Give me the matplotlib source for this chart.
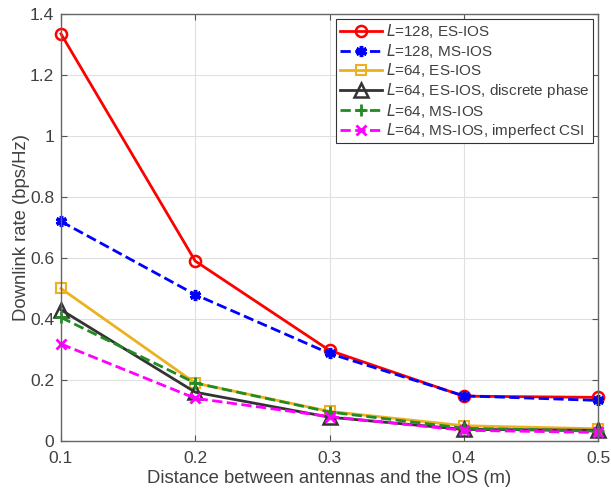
import matplotlib
matplotlib.use("Agg")
import matplotlib.pyplot as plt
from matplotlib.ticker import FuncFormatter

plt.rcParams['font.family'] = ['Liberation Sans', 'DejaVu Sans']

# distance between antennas and the IOS (m)
dist = [0.1, 0.2, 0.3, 0.4, 0.5]

# downlink rate (bps/Hz)
rate_l128_es = [1.335, 0.59, 0.297, 0.147, 0.143]
rate_l128_ms = [0.72, 0.48, 0.287, 0.148, 0.133]
rate_l64_es = [0.50, 0.19, 0.097, 0.05, 0.04]
rate_l64_es_disc = [0.43, 0.16, 0.078, 0.038, 0.035]
rate_l64_ms = [0.405, 0.19, 0.095, 0.042, 0.032]
rate_l64_ms_icsi = [0.318, 0.14, 0.08, 0.035, 0.028]

labels = [r'$L$=128, ES-IOS', r'$L$=128, MS-IOS', r'$L$=64, ES-IOS',
          r'$L$=64, ES-IOS, discrete phase', r'$L$=64, MS-IOS',
          r'$L$=64, MS-IOS, imperfect CSI']

txt = '#404040'

fig = plt.figure(figsize=(6.11, 4.92), dpi=100)
ax = fig.add_axes([0.0998, 0.1037, 0.8790, 0.8678])

ax.plot(dist, rate_l128_es, '-o', color='red', lw=2, ms=8, mfc='none', mew=1.8, label=labels[0], clip_on=False)
ax.plot(dist, rate_l128_ms, '--', marker=(6, 2, 0), color='blue', lw=2, ms=8, mew=2.5, label=labels[1], clip_on=False)
ax.plot(dist, rate_l64_es, '-s', color='#EDB120', lw=2, ms=7, mfc='none', mew=1.5, label=labels[2], clip_on=False)
ax.plot(dist, rate_l64_es_disc, '-^', color='#333333', lw=2, ms=10, mfc='none', mew=1.8, label=labels[3], clip_on=False)
ax.plot(dist, rate_l64_ms, '--+', color='#228B22', lw=2, ms=9, mew=2, label=labels[4], clip_on=False)
ax.plot(dist, rate_l64_ms_icsi, '--x', color='magenta', lw=2, ms=7, mew=2, label=labels[5], clip_on=False)

ax.set_xlim(0.1, 0.5)
ax.set_ylim(0, 1.4)
ax.set_xticks([0.1, 0.2, 0.3, 0.4, 0.5])
ax.set_yticks([0, 0.2, 0.4, 0.6, 0.8, 1.0, 1.2, 1.4])
ax.yaxis.set_major_formatter(FuncFormatter(lambda v, p: ('%g' % round(v, 2))))
ax.tick_params(direction='in', top=True, right=True, labelsize=12.5, labelcolor=txt,
               color='#555555', length=4)
ax.tick_params(axis='x', pad=7)
ax.tick_params(axis='y', pad=5)
ax.grid(True, color='#e0e0e0', lw=0.8)
for s in ax.spines.values():
    s.set_color('#666666')
    s.set_linewidth(1.0)

ax.set_xlabel('Distance between antennas and the IOS (m)', fontsize=13.3, color=txt, labelpad=3)
ax.set_ylabel('Downlink rate (bps/Hz)', fontsize=13.3, color=txt, labelpad=0)

leg = ax.legend(loc='upper right', fontsize=11, fancybox=False, framealpha=1,
                edgecolor='#333333', handlelength=2.8, borderpad=0.2,
                labelspacing=0.1, handletextpad=0.25, borderaxespad=0.35)
leg.get_frame().set_linewidth(0.8)
leg.set_zorder(5)
for t in leg.get_texts():
    t.set_color(txt)

fig.savefig('out.png', dpi=100)
